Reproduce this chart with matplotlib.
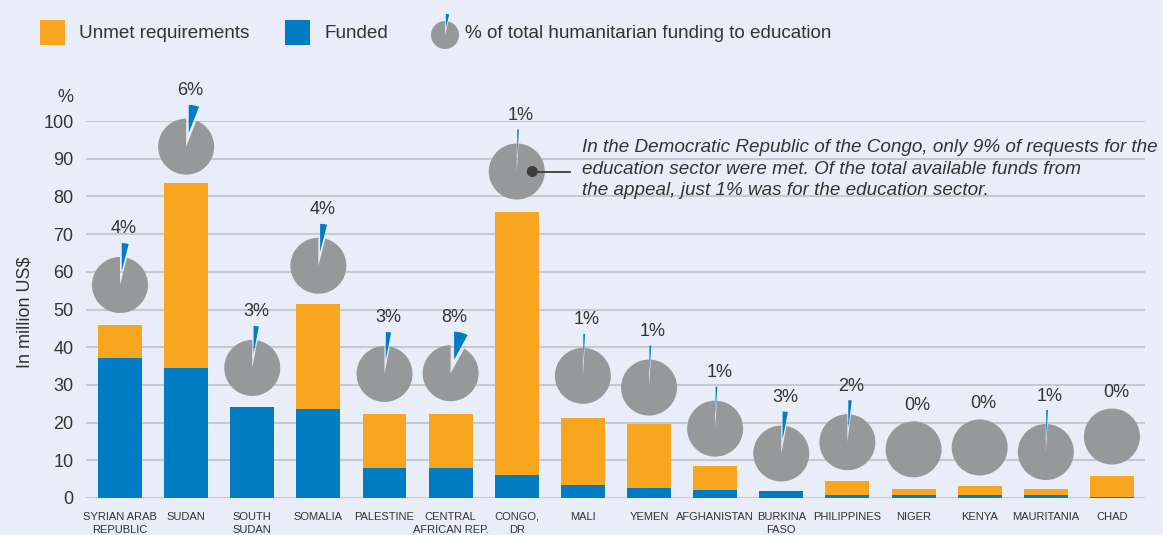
import math
import matplotlib
matplotlib.use("Agg")
import matplotlib.pyplot as plt
from matplotlib.patches import Wedge, Rectangle, Circle
from matplotlib import transforms
from matplotlib import font_manager as fm

# ---------------- data ----------------
countries = ["SYRIAN ARAB\nREPUBLIC", "SUDAN", "SOUTH\nSUDAN", "SOMALIA", "PALESTINE",
             "CENTRAL\nAFRICAN REP.", "CONGO,\nDR", "MALI", "YEMEN", "AFGHANISTAN",
             "BURKINA\nFASO", "PHILIPPINES", "NIGER", "KENYA", "MAURITANIA", "CHAD"]
funded = [37.2, 34.6, 24.2, 23.7, 8.0, 8.0, 6.1, 3.4, 2.7, 2.1, 1.9, 0.8, 0.8, 0.8, 0.8, 0.3]
unmet = [8.7, 49.0, 0.0, 27.8, 14.3, 14.3, 69.8, 17.8, 16.9, 6.4, 0.0, 3.7, 1.6, 2.4, 1.6, 5.5]
edu_share = [4, 6, 3, 4, 3, 8, 1, 1, 1, 1, 3, 2, 0, 0, 1, 0]          # % shown in pies
pie_level = [56.5, 93.2, 34.5, 61.6, 32.9, 33.1, 86.6, 32.4, 29.3, 18.4,
             11.8, 14.8, 12.9, 13.4, 12.2, 16.3]                       # pie centre (axis units)
yticks = list(range(0, 101, 10))
legend_labels = ["Unmet requirements", "Funded", "% of total humanitarian funding to education"]
note = ("In the Democratic Republic of the Congo, only 9% of requests for the\n"
        "education sector were met. Of the total available funds from\n"
        "the appeal, just 1% was for the education sector.")

# ---------------- style ----------------
ORANGE = "#F8A51F"
BLUE = "#007CC3"
GREY = "#97989A"
BG = "#E9EDF7"
GRID = "#C6C9CF"
TXT = "#333333"

names = {f.name for f in fm.fontManager.ttflist}
MAIN = "Liberation Sans" if "Liberation Sans" in names else "DejaVu Sans"
plt.rcParams["font.family"] = [MAIN, "DejaVu Sans"]

W, H = 1163, 535
fig = plt.figure(figsize=(W / 100, H / 100), dpi=100, facecolor=BG)
ax = fig.add_axes([86 / W, (H - 498) / H, (1145 - 86) / W, (498 - 121) / H])
ax.set_facecolor(BG)

x = list(range(len(countries)))
ax.bar(x, funded, width=0.665, color=BLUE, zorder=3)
ax.bar(x, unmet, width=0.665, bottom=funded, color=ORANGE, zorder=3)

ax.set_xlim(-0.514, 15.5)
ax.set_ylim(0, 100)
ax.set_yticks(yticks)
ax.set_yticklabels([str(v) for v in yticks], fontsize=13, color=TXT)
ax.set_xticks(x)
ax.set_xticklabels(countries, fontsize=8, color=TXT, linespacing=1.45, va="top")
ax.tick_params(axis="x", length=0, pad=10)
ax.tick_params(axis="y", length=0, pad=9)
for s in ax.spines.values():
    s.set_visible(False)
ax.grid(axis="y", color=GRID, linewidth=1.5, zorder=0)
ax.set_axisbelow(True)

fig.text(25 / W, (H - 312) / H, "In million US$", rotation=90, fontsize=13, color=TXT,
         ha="center", va="center")
fig.text(73 / W, (H - 98) / H, "%", fontsize=13, color=TXT, ha="right", va="center")

# ---------------- pies ----------------
R = 0.28        # inches (28 px)
EXPL = 0.14     # explode offset


def draw_pie(trans_base, share, r, expl, z=5):
    p = share / 100.0
    if p <= 0:
        ax.add_artist(Wedge((0, 0), r, 0, 360, facecolor=GREY, edgecolor="none",
                            transform=trans_base, zorder=z, clip_on=False))
        return
    ang = 360 * p
    ax.add_artist(Wedge((0, 0), r, 90, 90 + 360 - ang, facecolor=GREY, edgecolor="none",
                        transform=trans_base, zorder=z, clip_on=False))
    mid = math.radians(90 - ang / 2)
    ox, oy = expl * math.cos(mid), expl * math.sin(mid)
    ax.add_artist(Wedge((ox, oy), r, 90 - ang, 90, facecolor=BLUE, edgecolor="none",
                        transform=trans_base, zorder=z + 1, clip_on=False))


for xi, lvl, s in zip(x, pie_level, edu_share):
    tb = fig.dpi_scale_trans + transforms.ScaledTranslation(xi, lvl, ax.transData)
    draw_pie(tb, s, R, EXPL)
    off = 0.56 if s > 0 else 0.44
    ax.text(0.04, off, f"{s}%", transform=tb, ha="center", va="center",
            fontsize=13, color=TXT, zorder=7, clip_on=False)

# annotation for Congo
ci = 6
tb = fig.dpi_scale_trans + transforms.ScaledTranslation(ci, pie_level[ci], ax.transData)
ax.add_artist(Circle((0.155, 0.0), 0.055, facecolor="#3C3C3C", edgecolor="none",
                     transform=tb, zorder=8, clip_on=False))
ax.plot([0.155, 0.53], [0.0, 0.0], color="#3C3C3C", linewidth=1.3, transform=tb,
        zorder=8, clip_on=False)
fig.text(582 / W, (H - 169) / H, note, fontsize=13.6, style="italic", color=TXT,
         ha="left", va="center", linespacing=1.38)

# ---------------- legend ----------------
LFS = 13.6
fig.add_artist(Rectangle((40 / W, (H - 45) / H), 25 / W, 25 / H, transform=fig.transFigure,
                         facecolor=ORANGE, edgecolor="none"))
fig.text(79 / W, (H - 33) / H, legend_labels[0], fontsize=LFS, color=TXT, va="center")
fig.add_artist(Rectangle((285 / W, (H - 45) / H), 25 / W, 25 / H, transform=fig.transFigure,
                         facecolor=BLUE, edgecolor="none"))
fig.text(324 / W, (H - 33) / H, legend_labels[1], fontsize=LFS, color=TXT, va="center")

lc = (4.45, (H - 35) / 100)
lr = 0.14
fig.add_artist(Wedge(lc, lr, 90, 90 + 360 - 14, facecolor=GREY, edgecolor="none",
                     transform=fig.dpi_scale_trans))
m = math.radians(90 - 7)
fig.add_artist(Wedge((lc[0] + 0.07 * math.cos(m), lc[1] + 0.07 * math.sin(m)), lr, 90 - 14, 90,
                     facecolor=BLUE, edgecolor="none", transform=fig.dpi_scale_trans))
fig.text(465 / W, (H - 33) / H, legend_labels[2], fontsize=LFS, color=TXT, va="center")

fig.savefig("out.png", dpi=100, facecolor=BG)
